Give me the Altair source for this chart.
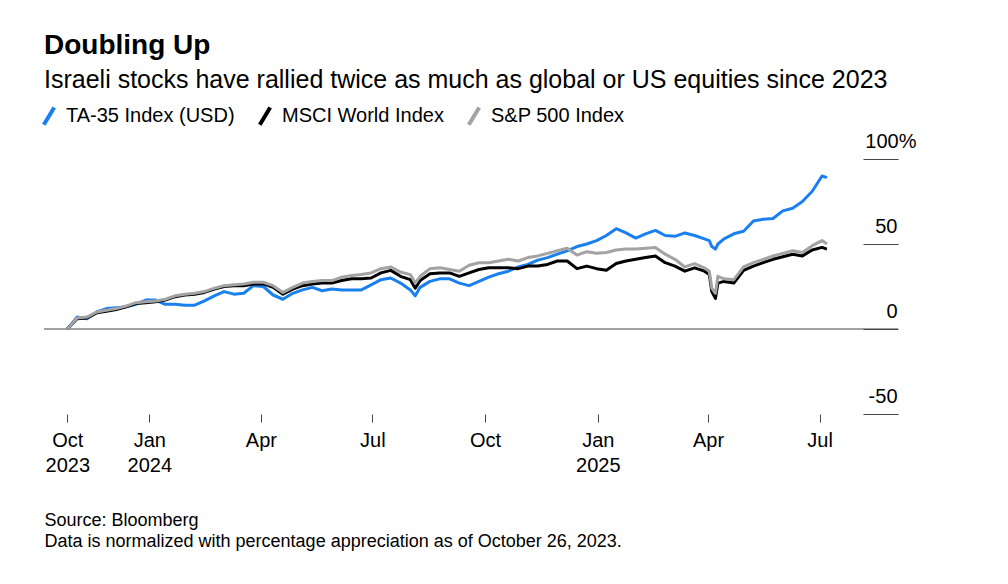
import altair as alt
import pandas as pd

FONT = "Liberation Sans"

dates = [
    "2023-10-26", "2023-11-03", "2023-11-11", "2023-11-19", "2023-11-27",
    "2023-12-05", "2023-12-13", "2023-12-21", "2023-12-29", "2024-01-06",
    "2024-01-14", "2024-01-22", "2024-01-30", "2024-02-07", "2024-02-15",
    "2024-02-23", "2024-03-02", "2024-03-10", "2024-03-18", "2024-03-26",
    "2024-04-03", "2024-04-11", "2024-04-19", "2024-04-27", "2024-05-05",
    "2024-05-13", "2024-05-21", "2024-05-29", "2024-06-06", "2024-06-14",
    "2024-06-22", "2024-06-30", "2024-07-08", "2024-07-16", "2024-07-24",
    "2024-08-01", "2024-08-05", "2024-08-09", "2024-08-17", "2024-08-25",
    "2024-09-02", "2024-09-10", "2024-09-18", "2024-09-26", "2024-10-04",
    "2024-10-12", "2024-10-20", "2024-10-28", "2024-11-05", "2024-11-13",
    "2024-11-21", "2024-11-29", "2024-12-07", "2024-12-15", "2024-12-23",
    "2024-12-31", "2025-01-08", "2025-01-16", "2025-01-24", "2025-02-01",
    "2025-02-09", "2025-02-17", "2025-02-25", "2025-03-05", "2025-03-13",
    "2025-03-21", "2025-03-29", "2025-04-02", "2025-04-04", "2025-04-07",
    "2025-04-09", "2025-04-14", "2025-04-22", "2025-04-30", "2025-05-08",
    "2025-05-16", "2025-05-24", "2025-06-01", "2025-06-09", "2025-06-17",
    "2025-06-25", "2025-07-03", "2025-07-07",
]

ta35 = [
    0, 7, 6, 10, 12, 12.5, 13, 14.5, 17, 17,
    14.5, 14.5, 14, 14, 16.5, 19.5, 22, 20.5, 21, 25.5,
    25, 20, 17.5, 21, 23, 24.5, 22.5, 23.5, 23, 23,
    23, 26, 29, 30, 27, 23, 19.5, 24.5, 28, 29.5,
    29.5, 27, 25.5, 28, 30.5, 32.5, 34, 36.5, 38, 40.5,
    42, 44, 46, 48.5, 50, 52, 55, 59, 56.5, 53.5,
    56, 58, 55, 54.5, 56.5, 55, 53, 52, 48.5, 47,
    50, 53, 56, 57.5, 63.5, 64.5, 65, 69.5, 71, 75,
    81, 90, 89,
]

msci = [
    0, 6, 6.5, 9.5, 10.5, 11.5, 13, 15, 15.5, 16,
    17, 19, 20, 20.5, 21.5, 23.5, 25, 25.5, 25.5, 26.5,
    26.5, 24.5, 20.5, 23.5, 25.5, 26.5, 27, 27, 28.5, 29.5,
    29.5, 30, 33, 34.5, 31, 29, 24, 28.5, 32.5, 33,
    33, 31, 33, 35, 36, 36, 36, 35.5, 37, 37,
    38, 40, 40, 35.5, 37, 35.5, 34.5, 38.5, 40, 41,
    42, 43, 39, 37, 34, 36, 34, 32, 22, 18,
    27, 28, 27, 34.5, 37, 39, 41, 42.5, 44, 43,
    46.5, 48, 47,
]

spx = [
    0, 6.5, 7, 10, 11, 12, 13.5, 15.5, 16, 16.5,
    17.5, 19.5, 20.5, 21, 22, 24, 25.5, 26, 26.5, 27.5,
    27.5, 25.5, 21.5, 24.5, 27, 28, 28.5, 28.5, 30.5, 31.5,
    32, 33, 35.5, 36.5, 33.5, 32, 27, 31, 35.5, 36,
    35, 34, 37.5, 39, 39, 40, 41, 40, 42, 43,
    44.5, 46, 47.5, 43.5, 45.5, 44.5, 45, 46.5, 47, 47,
    47.5, 48, 44, 41, 36.5, 38.5, 36, 34, 24, 21,
    31, 29.5, 29, 36.5, 39, 41, 43, 44.5, 46, 45,
    49, 52, 50,
]

series_names = ["TA-35 Index (USD)", "MSCI World Index", "S&P 500 Index"]
series_colors = ["#1a80f0", "#000000", "#a3a3a3"]

y_ticks = [-50, 0, 50, 100]

source_lines = [
    "Source: Bloomberg",
    "Data is normalized with percentage appreciation as of October 26, 2023.",
]

rows = []
for name, vals in zip(series_names, [ta35, msci, spx]):
    for d, v in zip(dates, vals):
        rows.append({"date": d, "value": v, "series": name})
df = pd.DataFrame(rows)

zero_df = pd.DataFrame({"value": [0]})

x_ticks = [
    alt.DateTime(year=2023, month=10, date=26, utc=True),
    alt.DateTime(year=2024, month=1, date=1, utc=True),
    alt.DateTime(year=2024, month=4, date=1, utc=True),
    alt.DateTime(year=2024, month=7, date=1, utc=True),
    alt.DateTime(year=2024, month=10, date=1, utc=True),
    alt.DateTime(year=2025, month=1, date=1, utc=True),
    alt.DateTime(year=2025, month=4, date=1, utc=True),
    alt.DateTime(year=2025, month=7, date=1, utc=True),
]

x_enc = alt.X(
    "date:T",
    scale=alt.Scale(
        type="utc",
        domain=[
            alt.DateTime(year=2023, month=10, date=7, utc=True),
            alt.DateTime(year=2025, month=9, date=3, utc=True),
        ],
    ),
    axis=alt.Axis(
        values=x_ticks,
        labelExpr="(utcmonth(datum.value) == 0 || utcyear(datum.value) == 2023) ? [utcFormat(datum.value, '%b'), utcFormat(datum.value, '%Y')] : utcFormat(datum.value, '%b')",
        domain=False,
        grid=False,
        tickSize=8,
        tickColor="#444444",
        tickWidth=1,
        labelFontSize=20,
        labelColor="#000000",
        labelPadding=8,
        labelLineHeight=25,
        labelFlush=False,
        labelOverlap=False,
        title=source_lines,
        titleAnchor="start",
        titleAlign="left",
        titleFontSize=18,
        titleFontWeight="normal",
        titleLineHeight=21,
        titlePadding=36,
        titleColor="#000000",
    ),
)

y_enc = alt.Y(
    "value:Q",
    scale=alt.Scale(domain=[-50, 100], nice=False, zero=False),
    axis=alt.Axis(
        orient="right",
        values=y_ticks,
        labelExpr="datum.value == 100 ? '100%' : '' + datum.value",
        domain=False,
        grid=False,
        tickSize=35,
        offset=-35,
        tickColor="#444444",
        tickWidth=1,
        labelAlign="right",
        labelBaseline="alphabetic",
        labelOffset=-12,
        labelPadding={"condition": {"test": "datum.value == 100", "value": 18}, "value": -1},
        labelFontSize=20,
        labelColor="#000000",
        title=None,
    ),
)

zero_rule = alt.Chart(zero_df).mark_rule(color="#444444", strokeWidth=1).encode(
    y=alt.Y("value:Q", scale=alt.Scale(domain=[-50, 100], nice=False, zero=False))
)

lines = alt.Chart(df).mark_line(strokeWidth=3, strokeJoin="round").encode(
    x=x_enc,
    y=y_enc,
    color=alt.Color(
        "series:N",
        scale=alt.Scale(domain=series_names, range=series_colors),
        legend=alt.Legend(
            title=None,
            orient="none",
            legendX=-6,
            legendY=-54,
            direction="horizontal",
            symbolType="M-0.6,1L0.6,-1",
            symbolSize=300,
            symbolStrokeWidth=4,
            labelFontSize=20,
            labelColor="#000000",
            labelLimit=0,
            labelOffset=6,
            columnPadding=16,
        ),
    ),
)

chart = (
    alt.layer(zero_rule, lines)
    .properties(
        width=854,
        height=255,
        padding={"left": 30, "top": 24, "right": 20, "bottom": 10},
        title=alt.TitleParams(
            text="Doubling Up",
            subtitle="Israeli stocks have rallied twice as much as global or US equities since 2023",
            anchor="start",
            frame="group",
            fontSize=28,
            fontWeight="bold",
            color="#000000",
            subtitleFontSize=25,
            subtitleColor="#000000",
            subtitlePadding=8,
            offset=12,
            font=FONT,
            subtitleFont=FONT,
        ),
    )
    .configure(font=FONT)
    .configure_view(stroke=None)
)

chart.save("out.html", embed_options={"renderer": "svg", "actions": False})
